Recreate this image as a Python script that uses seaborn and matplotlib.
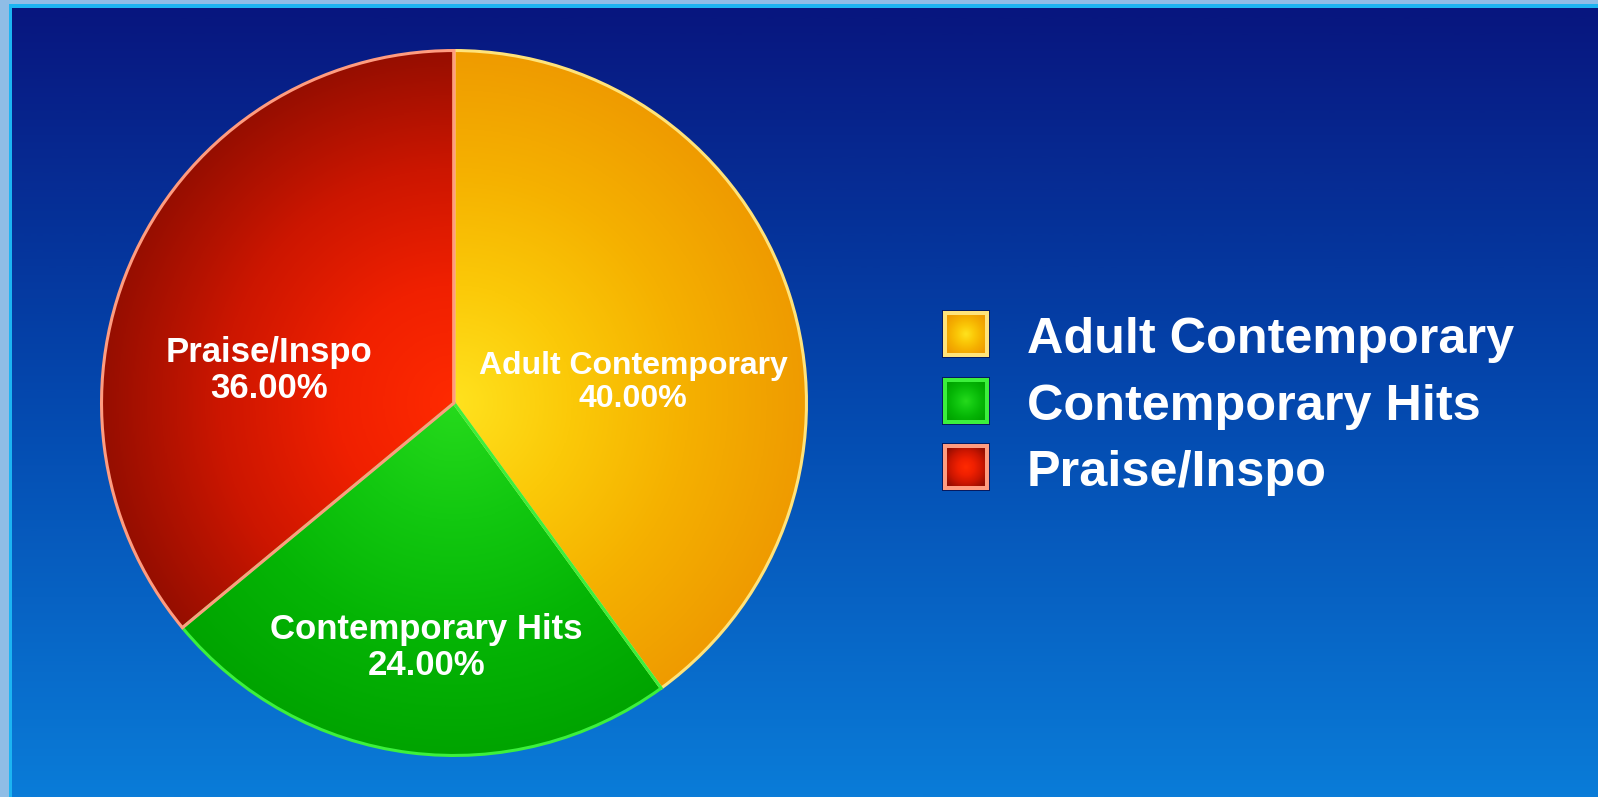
import numpy as np
import matplotlib
matplotlib.use("Agg")
import matplotlib.pyplot as plt
from matplotlib.patches import Rectangle
import seaborn as sns

# Format share by station category
categories = ["Adult Contemporary", "Contemporary Hits", "Praise/Inspo"]
shares = [40.0, 24.0, 36.0]

# Radial gradient stops (centre -> rim) and outline colour for each slice
gradient_stops = [
    ["#ffe21e", "#fbc908", "#f5b000", "#ef9b00"],
    ["#26da1c", "#12c810", "#05b505", "#00a400"],
    ["#ff2a00", "#f02000", "#cc1600", "#960e00"],
]
edge_colors = ["#ffe37a", "#3cf03c", "#ff9c80"]

# Where the in-slice labels sit (pie units, centre = 0,0) and their sizes
label_anchors = [(0.508, 0.058), (-0.079, -0.694), (-0.525, 0.093)]
label_sizes = [23, 25, 25]

sns.set_theme(style="white")
plt.rcParams["font.family"] = ["Liberation Sans", "DejaVu Sans"]

W, H = 1598, 797
fig = plt.figure(figsize=(W / 100, H / 100), dpi=100)

# ---- background layer in pixel coordinates ----
bg = fig.add_axes([0, 0, 1, 1])
bg.set_xlim(0, W)
bg.set_ylim(H, 0)
bg.axis("off")

bg_cmap = sns.blend_palette(["#08157e", "#0448ae", "#0a7cd8"], as_cmap=True)
grad = np.linspace(0, 1, 400).reshape(-1, 1)
bg.imshow(grad, cmap=bg_cmap, extent=[0, W, H, 0], aspect="auto",
          interpolation="bilinear", zorder=0)

# frame strips along the left and top edges
bg.add_patch(Rectangle((0, 0), 9, H, color="#8fbde6", lw=0, zorder=1))
bg.add_patch(Rectangle((9, 0), 3, H, color="#1cb4f2", lw=0, zorder=1))
bg.add_patch(Rectangle((0, 0), W, 4, color="#8fbde6", lw=0, zorder=1))
bg.add_patch(Rectangle((9, 4), W - 9, 4, color="#1cb4f2", lw=0, zorder=1))

# ---- legend drawn on the pixel layer ----
sq = 46
sq_x = 943
row_y = [334, 401, 467]
yy, xx = np.mgrid[-1:1:80j, -1:1:80j]
rr = np.clip(np.sqrt(xx ** 2 + yy ** 2) / 1.3, 0, 1)
for i, name in enumerate(categories):
    cmap = sns.blend_palette(gradient_stops[i], as_cmap=True)
    y0 = row_y[i] - sq / 2
    bg.add_patch(Rectangle((sq_x - 1, y0 - 1), sq + 2, sq + 2,
                           facecolor="#061a60", lw=0, zorder=2))
    bg.add_patch(Rectangle((sq_x, y0), sq, sq, facecolor=edge_colors[i],
                           lw=0, zorder=2))
    bg.imshow(rr, cmap=cmap, vmin=0, vmax=1,
              extent=[sq_x + 4, sq_x + sq - 4, y0 + sq - 4, y0 + 4],
              aspect="auto", interpolation="bilinear", zorder=3)
    bg.text(1027, row_y[i] + 6, name, color="white", fontsize=36.3,
            fontweight="bold", ha="left", va="center", zorder=4)

# ---- pie ----
cx, cy, rad = 454, 403, 356
ax = fig.add_axes([(cx - rad) / W, (H - cy - rad) / H, 2 * rad / W, 2 * rad / H])
ax.patch.set_alpha(0)
wedges, _ = ax.pie(shares, colors=[s[1] for s in gradient_stops], startangle=90,
                   counterclock=False, radius=1, wedgeprops=dict(linewidth=2.2))
ax.set_xlim(-1.01, 1.01)
ax.set_ylim(-1.01, 1.01)
ax.set_aspect("equal")
ax.axis("off")

gy, gx = np.mgrid[1:-1:600j, -1:1:600j]
dist = np.clip(np.sqrt(gx ** 2 + gy ** 2), 0, 1)
for i, w in enumerate(wedges):
    cmap = sns.blend_palette(gradient_stops[i], as_cmap=True)
    im = ax.imshow(dist, cmap=cmap, vmin=0, vmax=1, extent=[-1, 1, -1, 1],
                   interpolation="bilinear", zorder=1)
    im.set_clip_path(w)
    w.set_facecolor("none")
    w.set_edgecolor(edge_colors[i])
    w.set_zorder(2 + (2 if i == 2 else 0))

for (lx, ly), name, val, fs in zip(label_anchors, categories, shares, label_sizes):
    ax.text(lx, ly, f"{name}\n{val:.2f}%", color="white", fontsize=fs,
            fontweight="bold", ha="center", va="center", linespacing=1.12,
            zorder=6)

fig.savefig("out.png", dpi=100)
